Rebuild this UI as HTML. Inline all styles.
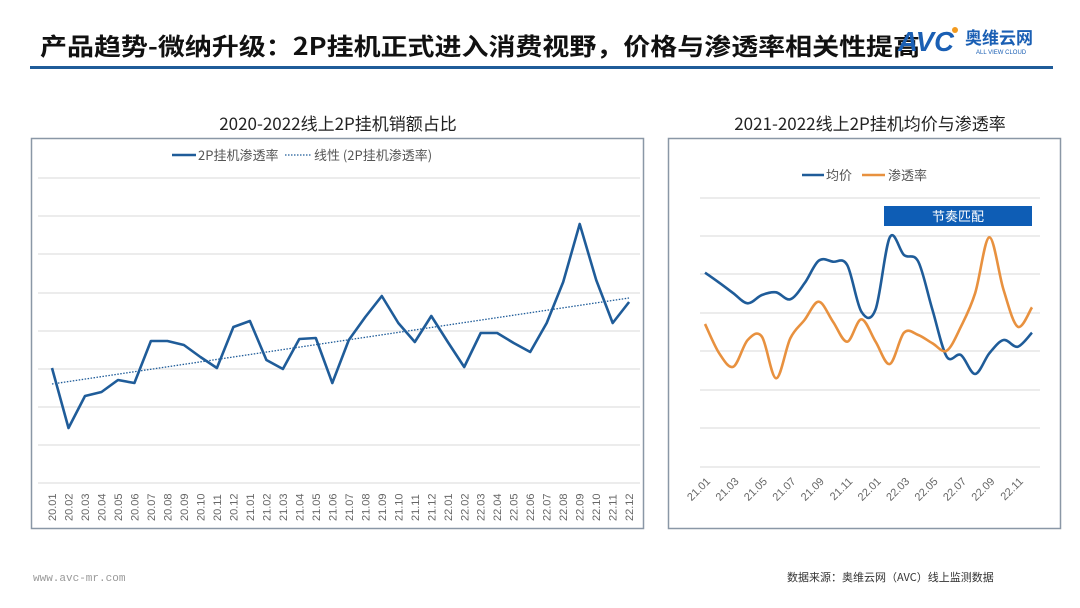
<!DOCTYPE html>
<html><head><meta charset="utf-8"><style>
body{margin:0;background:#fff;}
svg{display:block;font-family:"Liberation Sans","Noto Sans CJK SC",sans-serif;}
</style></head><body>
<svg id="s" width="1080" height="608" viewBox="0 0 1080 608" xmlns="http://www.w3.org/2000/svg">
<rect width="1080" height="608" fill="#fff"/>
<text x="40" y="55" font-size="24" font-weight="bold" fill="#111" font-family="'Noto Sans CJK SC',sans-serif" textLength="880" lengthAdjust="spacingAndGlyphs">产品趋势-微纳升级：2P挂机正式进入消费视野，价格与渗透率相关性提高</text>
<rect x="30" y="66" width="1023" height="3" fill="#1f5c99"/>
<text x="898" y="51" font-size="28" font-weight="bold" font-style="italic" fill="#1a5fb4" textLength="56" lengthAdjust="spacingAndGlyphs">AVC</text>
<circle cx="955" cy="30" r="3" fill="#f39a1e"/>
<text x="965" y="44" font-size="17" font-weight="bold" fill="#1a5fb4" font-family="'Noto Sans CJK SC',sans-serif">奥维云网</text>
<text x="976" y="54" font-size="6" fill="#1a5fb4">ALL VIEW CLOUD</text>

<text x="338" y="130" font-size="17" text-anchor="middle" fill="#222" font-family="'Noto Sans CJK SC',sans-serif">2020-2022线上2P挂机销额占比</text>
<text x="870" y="130" font-size="17" text-anchor="middle" fill="#222" font-family="'Noto Sans CJK SC',sans-serif">2021-2022线上2P挂机均价与渗透率</text>

<rect x="31.5" y="138.5" width="612" height="390" fill="none" stroke="#8a97a6" stroke-width="1.5"/>
<rect x="668.5" y="138.5" width="392" height="390" fill="none" stroke="#8a97a6" stroke-width="1.5"/>

<g id="lg" stroke="#d9d9d9" stroke-width="1"></g>
<line x1="172" y1="155" x2="196" y2="155" stroke="#1f5c99" stroke-width="2.5"/>
<text x="198" y="160" font-size="13" fill="#555" font-family="'Noto Sans CJK SC',sans-serif">2P挂机渗透率</text>
<line x1="285" y1="155" x2="312" y2="155" stroke="#1f5c99" stroke-width="1.3" stroke-dasharray="1.5,1.5"/>
<text x="314" y="160" font-size="13" fill="#555" font-family="'Noto Sans CJK SC',sans-serif">线性 (2P挂机渗透率)</text>
<line x1="52" y1="384" x2="629" y2="298" stroke="#1f5c99" stroke-width="1.3" stroke-dasharray="1.5,1.5"/>
<polyline id="lp" fill="none" stroke="#1f5c99" stroke-width="2.6" stroke-linejoin="round"/>
<g id="lx" font-size="11" fill="#666"></g>

<g id="rg" stroke="#d9d9d9" stroke-width="1"></g>
<line x1="802" y1="175" x2="824" y2="175" stroke="#1f5c99" stroke-width="2.5"/>
<text x="826" y="180" font-size="13" fill="#555" font-family="'Noto Sans CJK SC',sans-serif">均价</text>
<line x1="862" y1="175" x2="885" y2="175" stroke="#e8913f" stroke-width="2.5"/>
<text x="888" y="180" font-size="13" fill="#555" font-family="'Noto Sans CJK SC',sans-serif">渗透率</text>
<path id="rb" fill="none" stroke="#1f5c99" stroke-width="2.6"/>
<path id="ro" fill="none" stroke="#e8913f" stroke-width="2.6"/>
<rect x="884" y="206" width="148" height="20" fill="#0e5db5"/>
<text x="958" y="221" font-size="13" fill="#fff" text-anchor="middle" font-family="'Noto Sans CJK SC',sans-serif">节奏匹配</text>
<g id="rx" font-size="11" fill="#666"></g>

<text x="33" y="581" font-size="11" fill="#999" font-family="'Liberation Mono',monospace">www.avc-mr.com</text>
<text x="787" y="581" font-size="11" fill="#333" font-family="'Noto Sans CJK SC',sans-serif">数据来源：奥维云网（AVC）线上监测数据</text>
</svg>
<script>
var NS="http://www.w3.org/2000/svg";
function el(t,a,p,txt){var e=document.createElementNS(NS,t);for(var k in a)e.setAttribute(k,a[k]);if(txt)e.textContent=txt;document.getElementById(p).appendChild(e);return e;}
[178,216,254,293,331,369,407,445,483].forEach(function(y){el('line',{x1:38,x2:640,y1:y,y2:y},'lg');});
var ly=[368,428,396,392,380,383,341,341,345,357,368,327,321,360,369,339,338,383,340,317,296,323,342,316,342,367,333,333,343,352,323,282,224,280,323,302];
var pts=[],labs=[];
for(var y=20;y<=22;y++)for(var m=1;m<=12;m++)labs.push(y+'.'+(m<10?'0':'')+m);
ly.forEach(function(v,i){var x=52+i*16.49;pts.push(x.toFixed(1)+','+v);
 el('text',{x:0,y:0,transform:'translate('+(x+4)+',521) rotate(-90)'},'lx',labs[i]);});
document.getElementById('lp').setAttribute('points',pts.join(' '));
[198,236,274,313,351,390,428,467].forEach(function(y){el('line',{x1:700,x2:1040,y1:y,y2:y},'rg');});
var b=[398,428,460,490,465,457,478,430,362,365,375,515,508,292,345,365,510,650,645,702,640,600,620,578];
var o=[552,640,680,600,590,715,595,540,485,545,605,538,605,672,578,585,610,632,560,460,292,450,560,502];
function smooth(arr){var P=arr.map(function(v,i){return [705+i*14.217,140+v/3];});
 var d='M'+P[0][0]+','+P[0][1];
 for(var i=0;i<P.length-1;i++){var p0=P[Math.max(0,i-1)],p1=P[i],p2=P[i+1],p3=P[Math.min(P.length-1,i+2)];
  var c1=[p1[0]+(p2[0]-p0[0])/6,p1[1]+(p2[1]-p0[1])/6],c2=[p2[0]-(p3[0]-p1[0])/6,p2[1]-(p3[1]-p1[1])/6];
  d+=' C'+c1[0].toFixed(1)+','+c1[1].toFixed(1)+' '+c2[0].toFixed(1)+','+c2[1].toFixed(1)+' '+p2[0].toFixed(1)+','+p2[1].toFixed(1);}
 return d;}
document.getElementById('rb').setAttribute('d',smooth(b));
document.getElementById('ro').setAttribute('d',smooth(o));
for(var i=0;i<24;i+=2){var x=705+i*14.217;var lab=labs[12+i];
 el('text',{x:0,y:0,'text-anchor':'end',transform:'translate('+(x+6)+',482) rotate(-45)'},'rx',lab);}
</script>
</body></html>
